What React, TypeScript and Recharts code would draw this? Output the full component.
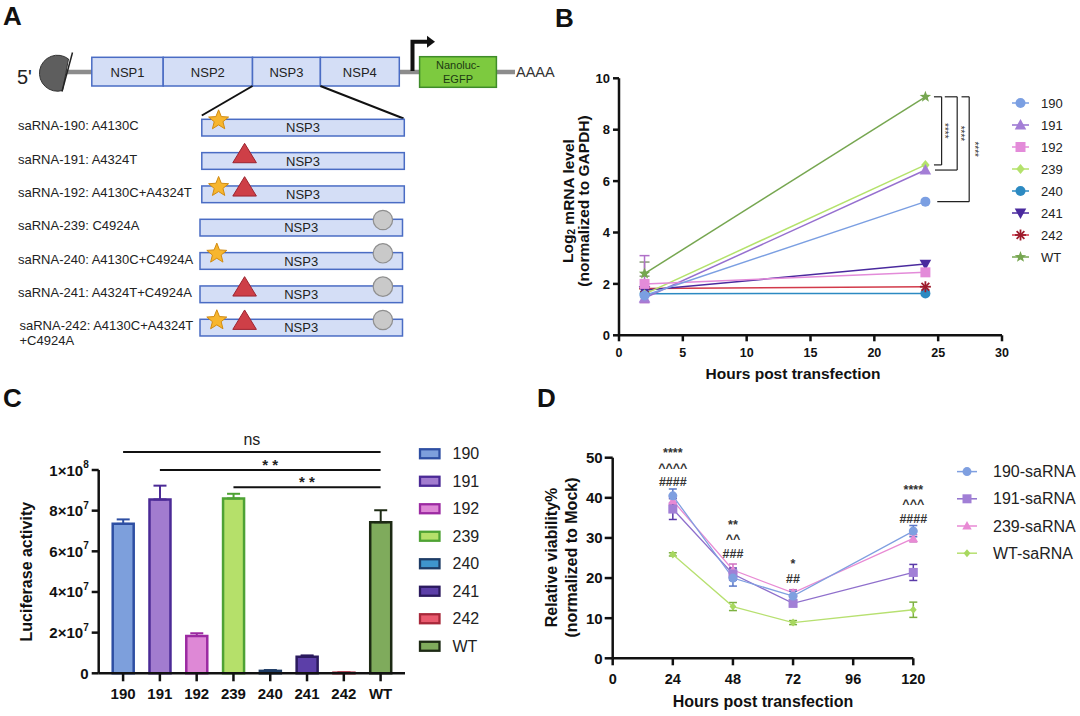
import React from 'react';
import {
  Bar, BarChart, Cell, ErrorBar, Legend, Line, LineChart, ReferenceDot, ReferenceLine, XAxis, YAxis,
} from 'recharts';

const FONT = '"Liberation Sans", Arial, Helvetica, sans-serif';
const INK = '#111';

// ---------- panel A (schematic) ----------
const nspDomains = ['NSP1', 'NSP2', 'NSP3', 'NSP4'];
const constructRows = [
  { label: ['saRNA-190: A4130C'], star: true, tri: false, dot: false },
  { label: ['saRNA-191: A4324T'], star: false, tri: true, dot: false },
  { label: ['saRNA-192: A4130C+A4324T'], star: true, tri: true, dot: false },
  { label: ['saRNA-239: C4924A'], star: false, tri: false, dot: true },
  { label: ['saRNA-240: A4130C+C4924A'], star: true, tri: false, dot: true },
  { label: ['saRNA-241: A4324T+C4924A'], star: false, tri: true, dot: true },
  { label: ['saRNA-242: A4130C+A4324T', '+C4924A'], star: true, tri: true, dot: true },
];

// ---------- panel B ----------
const hoursB = [2, 24];
const mrna190 = [1.55, 5.2];
const mrna191 = [1.45, 6.43];
const mrna192 = [2.0, 2.45];
const mrna239 = [1.6, 6.63];
const mrna240 = [1.62, 1.63];
const mrna241 = [1.75, 2.77];
const mrna242 = [1.82, 1.89];
const mrnaWT = [2.4, 9.28];
const mrna191Err = [[0.18, 1.65], null];
const mrnaWTErr = [[0.1, 0.45], null];

// ---------- panel C ----------
const lucCats = ['190', '191', '192', '239', '240', '241', '242', 'WT'];
const lucMean = [7.35e7, 8.55e7, 1.84e7, 8.6e7, 1.2e6, 8.2e6, 3e5, 7.43e7];
const lucSem = [2.2e6, 6.8e6, 1.3e6, 2.3e6, 4e5, 6e5, 1e5, 5.9e6];
const lucTicks = [0, 2e7, 4e7, 6e7, 8e7, 1e8];

// ---------- panel D ----------
const hoursD = [24, 48, 72, 120];
const via190 = [40.5, 20.0, 15.5, 31.7];
const via190Err = [1.7, 2.0, 1.2, 1.4];
const via191 = [37.2, 21.0, 13.7, 21.4];
const via191Err = [2.6, 1.5, 0.8, 2.0];
const via239 = [39.3, 22.0, 16.3, 29.9];
const via239Err = [1.0, 1.5, 0.8, 0.9];
const viaWT = [25.9, 12.9, 8.9, 12.1];
const viaWTErr = [0.4, 1.0, 0.5, 1.9];
const sigD = [
  { h: 24, y: 42.9, lines: ['****', '^^^^', '####'] },
  { h: 48, y: 25.1, lines: ['**', '^^', '###'] },
  { h: 72, y: 18.8, lines: ['*', '##'] },
  { h: 120, y: 33.8, lines: ['****', '^^^', '####'] },
];

const seriesB = [
  { key: 's190', name: '190', values: mrna190, color: '#7b9fe2', fill: '#7b9fe2', shape: 'circle', size: 10 },
  { key: 's191', name: '191', values: mrna191, color: '#9670cf', fill: '#a47ed6', shape: 'triangle', size: 11 },
  { key: 's192', name: '192', values: mrna192, color: '#e38bd9', fill: '#e38bd9', shape: 'square', size: 10 },
  { key: 's239', name: '239', values: mrna239, color: '#b4e26c', fill: '#b4e26c', shape: 'diamond', size: 10 },
  { key: 's240', name: '240', values: mrna240, color: '#2c8ac2', fill: '#2c8ac2', shape: 'circle', size: 10 },
  { key: 's241', name: '241', values: mrna241, color: '#4a2a9e', fill: '#4a2a9e', shape: 'tridown', size: 11 },
  { key: 's242', name: '242', values: mrna242, color: '#d23a4a', fill: '#9e1c2c', shape: 'asterisk', size: 11 },
  { key: 'sWT', name: 'WT', values: mrnaWT, color: '#76a650', fill: '#76a650', shape: 'star', size: 12 },
];
const drawOrderB = ['s240', 's242', 's241', 's239', 'sWT', 's191', 's192', 's190'];

const lucFill = ['#7d9fdc', '#a27ccf', '#de88d6', '#b5e06a', '#3f95cc', '#5c3fa8', '#ea5a6e', '#7fab5c'];
const lucStroke = ['#2e4fa3', '#4b2a96', '#9c2aa2', '#4ea234', '#1e3c66', '#2b1a5e', '#a8283a', '#1d2a14'];

const seriesD = [
  { key: 'd190', name: '190-saRNA', values: via190, err: via190Err, color: '#7f9fe0', fill: '#7f9fe0', errColor: '#5a78c8', shape: 'circle', size: 9 },
  { key: 'd191', name: '191-saRNA', values: via191, err: via191Err, color: '#8f6fcc', fill: '#a17fd6', errColor: '#5a3aa8', shape: 'square', size: 9 },
  { key: 'd239', name: '239-saRNA', values: via239, err: via239Err, color: '#e88ad4', fill: '#e88ad4', errColor: '#d070c0', shape: 'triangle', size: 9 },
  { key: 'dWT', name: 'WT-saRNA', values: viaWT, err: viaWTErr, color: '#b7e070', fill: '#a8d860', errColor: '#7cb040', shape: 'diamond', size: 8 },
];
const drawOrderD = ['dWT', 'd239', 'd191', 'd190'];

const rowsB = hoursB.map((h, i) => {
  const row: any = { h, e191: mrna191Err[i], eWT: mrnaWTErr[i] };
  seriesB.forEach((s) => { row[s.key] = s.values[i]; });
  return row;
});

const rowsC = lucCats.map((cat, i) => {
  const row: any = { cat, v: lucMean[i] };
  lucCats.forEach((_, j) => { row[`e${j}`] = i === j ? [0, lucSem[i]] : null; });
  return row;
});

const rowsD = hoursD.map((h, i) => {
  const row: any = { h };
  seriesD.forEach((s) => { row[s.key] = s.values[i]; row[`${s.key}Err`] = s.err[i]; });
  return row;
});

function starPoints(cx: number, cy: number, outer: number, inner: number) {
  const pts: string[] = [];
  for (let i = 0; i < 10; i++) {
    const a = (-90 + i * 36) * Math.PI / 180;
    const r = i % 2 ? inner : outer;
    pts.push(`${cx + r * Math.cos(a)},${cy + r * Math.sin(a)}`);
  }
  return pts.join(' ');
}

function Marker({ shape, cx, cy, size, fill }: any) {
  const r = size / 2;
  if (cx == null || cy == null) return null;
  switch (shape) {
    case 'circle':
      return <circle cx={cx} cy={cy} r={r} fill={fill} />;
    case 'square':
      return <rect x={cx - r} y={cy - r} width={size} height={size} fill={fill} />;
    case 'triangle':
      return <polygon points={`${cx},${cy - r * 1.1} ${cx + r * 1.05},${cy + r * 0.8} ${cx - r * 1.05},${cy + r * 0.8}`} fill={fill} />;
    case 'tridown':
      return <polygon points={`${cx},${cy + r * 1.1} ${cx + r * 1.05},${cy - r * 0.8} ${cx - r * 1.05},${cy - r * 0.8}`} fill={fill} />;
    case 'diamond':
      return <polygon points={`${cx},${cy - r} ${cx + r * 0.85},${cy} ${cx},${cy + r} ${cx - r * 0.85},${cy}`} fill={fill} />;
    case 'star':
      return <polygon points={starPoints(cx, cy, r, r * 0.42)} fill={fill} />;
    case 'asterisk':
      return (
        <g stroke={fill} strokeWidth={1.8}>
          {[0, 45, 90, 135].map((a) => {
            const t = a * Math.PI / 180;
            return <line key={a} x1={cx - r * Math.cos(t)} y1={cy - r * Math.sin(t)} x2={cx + r * Math.cos(t)} y2={cy + r * Math.sin(t)} />;
          })}
        </g>
      );
    default:
      return null;
  }
}

function LineLegend({ items, rowH, lineW, textX, fontSize, width }: any) {
  return (
    <svg width={width} height={items.length * rowH} style={{ display: 'block' }}>
      {items.map((s: any, i: number) => {
        const cy = rowH / 2 + i * rowH;
        return (
          <g key={s.name}>
            <line x1={2} x2={2 + lineW} y1={cy} y2={cy} stroke={s.color} strokeWidth={1.5} />
            <Marker shape={s.shape} cx={2 + lineW / 2} cy={cy} size={s.size} fill={s.fill} />
            <text x={textX} y={cy} dominantBaseline="central" fontSize={fontSize} fill="#222" fontFamily={FONT}>{s.name}</text>
          </g>
        );
      })}
    </svg>
  );
}

function BarLegend() {
  const rowH = 27.5;
  return (
    <svg width={110} height={lucCats.length * rowH} style={{ display: 'block' }}>
      {lucCats.map((c, i) => {
        const cy = rowH / 2 + i * rowH;
        return (
          <g key={c}>
            <rect x={6} y={cy - 4.5} width={19.5} height={9} fill={lucFill[i]} stroke={lucStroke[i]} strokeWidth={2.3} />
            <text x={38.5} y={cy} dominantBaseline="central" fontSize={16} fill="#222" fontFamily={FONT}>{c}</text>
          </g>
        );
      })}
    </svg>
  );
}

function SciTick({ x, y, payload }: any) {
  const v = payload.value;
  if (v === 0) {
    return <text x={x} y={y} textAnchor="end" dominantBaseline="central" fontSize={15} fontWeight={700} fill={INK} fontFamily={FONT}>0</text>;
  }
  const exp = Math.floor(Math.log10(v) + 1e-9);
  const mant = Math.round(v / Math.pow(10, exp));
  return (
    <text x={x} y={y} textAnchor="end" dominantBaseline="central" fontSize={15} fontWeight={700} fill={INK} fontFamily={FONT}>
      {`${mant}×10`}
      <tspan fontSize={10} dy={-6}>{exp}</tspan>
    </text>
  );
}

function rotatedTitle(lines: React.ReactNode[], xs: number[], cy: number, fontSize: number) {
  return (
    <g>
      {lines.map((ln, i) => (
        <text key={i} x={xs[i]} y={cy} transform={`rotate(-90 ${xs[i]} ${cy})`} textAnchor="middle" dominantBaseline="central"
          fontSize={fontSize} fontWeight={700} fill={INK} fontFamily={FONT}>{ln}</text>
      ))}
    </g>
  );
}

function SchematicA() {
  const edges = [91.8, 163.2, 252.5, 320.4, 399.3];
  const boxFill = '#d4def6';
  const boxStroke = '#4a6cc4';
  return (
    <g fontFamily={FONT}>
      <line x1={66} x2={515} y1={72} y2={72} stroke="#8c8c8c" strokeWidth={4.5} />
      <path d="M 62.5 90.5 A 18 18 0 1 1 68.5 59 Z" fill="#5e5e5e" stroke="#333" strokeWidth={1} />
      <line x1={62} y1={91.5} x2={72.5} y2={52.5} stroke="#222" strokeWidth={1.5} />
      <text x={17} y={77} dominantBaseline="central" fontSize={20} fill="#222">5'</text>
      {nspDomains.map((n, i) => (
        <g key={n}>
          <rect x={edges[i]} y={57.3} width={edges[i + 1] - edges[i]} height={28.7} fill={boxFill} stroke={boxStroke} strokeWidth={1.5} />
          <text x={(edges[i] + edges[i + 1]) / 2} y={72} textAnchor="middle" dominantBaseline="central" fontSize={13} fill="#222">{n}</text>
        </g>
      ))}
      <path d="M 412.5 71 V 41.7 H 428" fill="none" stroke="#111" strokeWidth={4} />
      <polygon points="427,35.7 435,41.7 427,47.7" fill="#111" />
      <rect x={419.6} y={56.7} width={76.8} height={30.6} fill="#7dca3f" stroke="#3f8c29" strokeWidth={1.5} />
      <text x={458} y={65} textAnchor="middle" dominantBaseline="central" fontSize={11} fill="#1c3a12">Nanoluc-</text>
      <text x={458} y={78.7} textAnchor="middle" dominantBaseline="central" fontSize={11} fill="#1c3a12">EGFP</text>
      <text x={516} y={72} dominantBaseline="central" fontSize={14.5} fill="#333">AAAA</text>
      <line x1={252.5} y1={86} x2={201.8} y2={115.5} stroke="#111" strokeWidth={2} />
      <line x1={320.4} y1={86} x2={403.6} y2={118.5} stroke="#111" strokeWidth={2} />
      {constructRows.map((row, i) => {
        const top = 119.3 + i * 33.33;
        const x0 = i < 3 ? 201.8 : 200;
        return (
          <g key={i}>
            {row.label.map((t, k) => (
              <text key={k} x={i === 6 ? 19.5 : 18} y={top + 6.4 + k * 15} dominantBaseline="central" fontSize={13} fill="#222">{t}</text>
            ))}
            <rect x={x0} y={top} width={202.5} height={16.7} fill={boxFill} stroke={boxStroke} strokeWidth={1.5} />
            <text x={x0 + 101.2} y={top + 8.6} textAnchor="middle" dominantBaseline="central" fontSize={13} fill="#222">NSP3</text>
            {row.star && <polygon points={starPoints(x0 + 16.8, top + 1, 10.5, 4.6)} fill="#f7b62e" stroke="#d18b12" strokeWidth={1} />}
            {row.tri && <polygon points={`244.6,${top - 9.3} 256.4,${top + 10.1} 232.8,${top + 10.1}`} fill="#ce3f47" stroke="#9b2430" strokeWidth={1} />}
            {row.dot && <circle cx={x0 + 182.9} cy={top + 0.7} r={9.7} fill="#c9c9c9" stroke="#8f8f8f" strokeWidth={1.2} />}
          </g>
        );
      })}
    </g>
  );
}

const axisStyle = { stroke: INK, strokeWidth: 2.5 };

function bracketLabel(dx: number) {
  return (p: any) => {
    const vb = p.viewBox || {};
    const cx = vb.x + dx;
    const cy = vb.y + vb.height / 2;
    return (
      <text x={cx} y={cy} transform={`rotate(90 ${cx} ${cy})`} textAnchor="middle" dominantBaseline="central"
        fontSize={10} fill="#333" fontFamily={FONT}>****</text>
    );
  };
}

function PanelB() {
  const top = mrnaWT[1];
  const brackets = [
    { bottom: mrna239[1], xTop: 24.67, xBot: 24.67, xv: 25.27, dx: 3 },
    { bottom: mrna191[1], xTop: 25.52, xBot: 24.75, xv: 26.49, dx: 3 },
    { bottom: mrna190[1], xTop: 26.83, xBot: 24.93, xv: 27.43, dx: 5 },
  ];
  return (
    <div style={{ position: 'absolute', left: 540, top: 40 }}>
      <LineChart width={540} height={360} data={rowsB} margin={{ top: 38.3, right: 78, bottom: 18.7, left: 39 }}>
        <XAxis dataKey="h" type="number" domain={[0, 30]} ticks={[0, 5, 10, 15, 20, 25, 30]} height={46}
          axisLine={axisStyle} tickLine={axisStyle} tickSize={6} tickMargin={7}
          tick={{ fill: INK, fontSize: 12.5, fontWeight: 700, fontFamily: FONT }}
          label={() => (
            <text x={253} y={333.3} textAnchor="middle" dominantBaseline="central" fontSize={15.5} fontWeight={700} fill={INK} fontFamily={FONT}>
              Hours post transfection
            </text>
          )} />
        <YAxis type="number" domain={[0, 10]} ticks={[0, 2, 4, 6, 8, 10]} width={40}
          axisLine={axisStyle} tickLine={axisStyle} tickSize={6} tickMargin={3}
          tick={{ fill: INK, fontSize: 13, fontWeight: 700, fontFamily: FONT }}
          label={() => rotatedTitle([
            <>Log<tspan fontSize={10} dy={3}>2</tspan><tspan dy={-3}> mRNA level</tspan></>,
            '(normalized to GAPDH)',
          ], [27.5, 43], 161, 15.5)} />
        {drawOrderB.map((k) => {
          const s = seriesB.find((x) => x.key === k)!;
          return (
            <Line key={k} dataKey={k} stroke={s.color} strokeWidth={1.5} isAnimationActive={false} activeDot={false}
              dot={(p: any) => <Marker key={`${k}-${p.index}`} shape={s.shape} cx={p.cx} cy={p.cy} size={s.size} fill={s.fill} />}>
              {k === 's191' && <ErrorBar dataKey="e191" direction="y" width={5} stroke="#b070c8" strokeWidth={1.5} />}
              {k === 'sWT' && <ErrorBar dataKey="eWT" direction="y" width={5} stroke="#8a9a7a" strokeWidth={1.5} />}
            </Line>
          );
        })}
        {brackets.map((b, i) => (
          <React.Fragment key={i}>
            <ReferenceLine segment={[{ x: b.xTop, y: top }, { x: b.xv, y: top }]} stroke="#222" strokeWidth={1.2} ifOverflow="visible" />
            <ReferenceLine segment={[{ x: b.xv, y: top }, { x: b.xv, y: b.bottom }]} stroke="#222" strokeWidth={1.2} ifOverflow="visible"
              label={bracketLabel(b.dx)} />
            <ReferenceLine segment={[{ x: b.xBot, y: b.bottom }, { x: b.xv, y: b.bottom }]} stroke="#222" strokeWidth={1.2} ifOverflow="visible" />
          </React.Fragment>
        ))}
        <Legend layout="vertical" align="center" verticalAlign="middle"
          wrapperStyle={{ left: 470, top: 52.3, width: 80 }}
          content={() => <LineLegend items={seriesB} rowH={22} lineW={17} textX={31} fontSize={13} width={80} />} />
      </LineChart>
    </div>
  );
}

function PanelC() {
  const sig = [
    { from: '190', y: 1.088e8, text: 'ns', size: 16, weight: 400, offset: 7 },
    { from: '191', y: 1.0e8, text: '* *', size: 15, weight: 700, offset: 0 },
    { from: '239', y: 9.15e7, text: '* *', size: 15, weight: 700, offset: 0 },
  ];
  return (
    <div style={{ position: 'absolute', left: 0, top: 420 }}>
      <BarChart width={540} height={296} data={rowsC} margin={{ top: 50, right: 135, bottom: 2.7, left: 38.7 }}>
        <XAxis dataKey="cat" type="category" padding={{ left: 6, right: 6 }} height={40}
          axisLine={axisStyle} tickLine={axisStyle} tickSize={8} tickMargin={7}
          tick={{ fill: INK, fontSize: 15, fontWeight: 700, fontFamily: FONT }} />
        <YAxis type="number" domain={[0, 1e8]} ticks={lucTicks} width={60}
          axisLine={axisStyle} tickLine={axisStyle} tickSize={7} tickMargin={3} tick={<SciTick />}
          label={() => rotatedTitle(['Luciferase activity'], [26.7], 151.7, 16)} />
        <Bar dataKey="v" barSize={21} isAnimationActive={false}>
          {rowsC.map((r, i) => (
            <Cell key={r.cat} fill={lucFill[i]} stroke={lucStroke[i]} strokeWidth={2.5} />
          ))}
          {lucCats.map((c, j) => (
            <ErrorBar key={c} dataKey={`e${j}`} direction="y" width={6.5} stroke={lucStroke[j]} strokeWidth={2} />
          ))}
        </Bar>
        {sig.map((s, i) => (
          <ReferenceLine key={i} segment={[{ x: s.from, y: s.y }, { x: 'WT', y: s.y }]} stroke={INK} strokeWidth={2}
            ifOverflow="visible"
            label={{ value: s.text, position: 'top', offset: s.offset, fill: '#222', fontSize: s.size, fontWeight: s.weight, fontFamily: FONT }} />
        ))}
        <Legend layout="vertical" align="center" verticalAlign="middle"
          wrapperStyle={{ left: 414, top: 20.25, width: 110 }}
          content={() => <BarLegend />} />
      </BarChart>
    </div>
  );
}

function sigStack(lines: string[]) {
  return (p: any) => {
    const vb = p.viewBox || {};
    const cx = vb.x + (vb.width || 0) / 2;
    const cy = vb.y + (vb.height || 0) / 2;
    return (
      <g>
        {lines.slice().reverse().map((t, i) => (
          <text key={i} x={cx} y={cy - i * 14.5} textAnchor="middle" fontSize={12.5} fontWeight={700} fill="#333" fontFamily={FONT}>{t}</text>
        ))}
      </g>
    );
  };
}

function PanelD() {
  return (
    <div style={{ position: 'absolute', left: 530, top: 420 }}>
      <LineChart width={550} height={296} data={rowsD} margin={{ top: 37.7, right: 166.7, bottom: 7.7, left: 37.7 }}>
        <XAxis dataKey="h" type="number" domain={[0, 120]} ticks={[0, 24, 48, 72, 96, 120]} height={50}
          axisLine={axisStyle} tickLine={axisStyle} tickSize={7} tickMargin={8}
          tick={{ fill: INK, fontSize: 14.5, fontWeight: 700, fontFamily: FONT }}
          label={() => (
            <text x={233} y={281.7} textAnchor="middle" dominantBaseline="central" fontSize={16} fontWeight={700} fill={INK} fontFamily={FONT}>
              Hours post transfection
            </text>
          )} />
        <YAxis type="number" domain={[0, 50]} ticks={[0, 10, 20, 30, 40, 50]} width={45}
          axisLine={axisStyle} tickLine={axisStyle} tickSize={8} tickMargin={2}
          tick={{ fill: INK, fontSize: 15, fontWeight: 700, fontFamily: FONT }}
          label={() => rotatedTitle(['Relative viability%', '(normalized to Mock)'], [21.7, 41.7], 137.5, 16)} />
        {drawOrderD.map((k) => {
          const s = seriesD.find((x) => x.key === k)!;
          return (
            <Line key={k} dataKey={k} stroke={s.color} strokeWidth={1.3} isAnimationActive={false} activeDot={false}
              dot={(p: any) => <Marker key={`${k}-${p.index}`} shape={s.shape} cx={p.cx} cy={p.cy} size={s.size} fill={s.fill} />}>
              <ErrorBar dataKey={`${k}Err`} direction="y" width={4} stroke={s.errColor} strokeWidth={1.5} />
            </Line>
          );
        })}
        {sigD.map((a) => (
          <ReferenceDot key={a.h} x={a.h} y={a.y} r={0} fill="none" stroke="none" ifOverflow="visible" label={sigStack(a.lines)} />
        ))}
        <Legend layout="vertical" align="center" verticalAlign="middle"
          wrapperStyle={{ left: 425, top: 38.1, width: 125 }}
          content={() => <LineLegend items={seriesD} rowH={27.2} lineW={20} textX={38} fontSize={16} width={125} />} />
      </LineChart>
    </div>
  );
}

export default function App() {
  return (
    <div style={{ position: 'absolute', left: 0, top: 0, width: 1080, height: 716, background: '#fff', fontFamily: FONT }}>
      <svg width={1080} height={716} style={{ position: 'absolute', left: 0, top: 0 }}>
        <SchematicA />
        <g fontFamily={FONT} fontSize={26} fontWeight={700} fill={INK}>
          <text x={3} y={25}>A</text>
          <text x={555} y={26.7}>B</text>
          <text x={3} y={406.7}>C</text>
          <text x={537} y={406.7}>D</text>
        </g>
      </svg>
      <PanelB />
      <PanelC />
      <PanelD />
    </div>
  );
}
